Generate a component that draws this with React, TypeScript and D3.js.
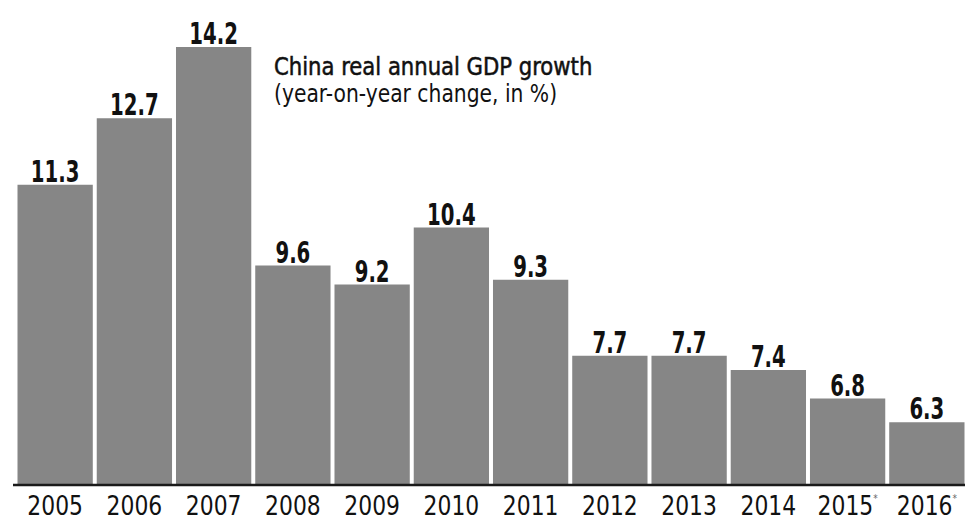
import React from 'react';
import * as d3 from 'd3';

const years = ['2005', '2006', '2007', '2008', '2009', '2010', '2011', '2012', '2013', '2014', '2015', '2016'];
const growth = [11.3, 12.7, 14.2, 9.6, 9.2, 10.4, 9.3, 7.7, 7.7, 7.4, 6.8, 6.3];
const starred = ['2015', '2016'];

const W = 965;
const H = 521;
const FONT = "'DejaVu Sans Condensed', 'DejaVu Sans', sans-serif";

export default function App() {
  const x = d3.scaleBand<string>().domain(years).range([17.5, 964.5]).paddingInner(0.05).paddingOuter(0);
  const y = d3.scaleLinear().domain([5, 14.2]).range([484, 47]);
  const data = years.map((yr, i) => ({ yr, v: growth[i] }));
  const cx = (yr: string) => (x(yr) || 0) + x.bandwidth() / 2;

  return (
    <svg width={W} height={H} style={{ position: 'absolute', left: 0, top: 0, background: '#fff' }}>
      {/* bars */}
      {data.map((d) => (
        <rect key={d.yr} x={x(d.yr)} y={y(d.v)} width={x.bandwidth()} height={y(5) - y(d.v)} fill="#868686" />
      ))}
      {/* value labels, squeezed to match the condensed type */}
      {data.map((d) => (
        <text
          key={'v' + d.yr}
          transform={`translate(${cx(d.yr)},${y(d.v) - 3}) scale(0.73,1)`}
          textAnchor="middle"
          fontFamily={FONT}
          fontWeight="bold"
          fontSize={30}
          fill="#111"
        >
          {d.v.toFixed(1)}
        </text>
      ))}
      {/* baseline */}
      <line x1={13} x2={965} y1={485} y2={485} stroke="#1a1a1a" strokeWidth={2.5} />
      {/* year labels */}
      {data.map((d) => (
        <text
          key={'t' + d.yr}
          transform={`translate(${cx(d.yr)},515) scale(0.9,1)`}
          textAnchor="middle"
          fontFamily={FONT}
          fontSize={27}
          fill="#111"
        >
          {d.yr}
          {starred.includes(d.yr) && (
            <tspan fontSize={11} dy={-13} fill="#666">*</tspan>
          )}
        </text>
      ))}
      {/* title */}
      <text transform="translate(274,75) scale(0.98,1)" fontFamily={FONT} fontSize={24} fill="#111" stroke="#111" strokeWidth={0.5}>
        China real annual GDP growth
      </text>
      <text transform="translate(274,102) scale(0.94,1)" fontFamily={FONT} fontSize={24} fill="#111">
        (year-on-year change, in %)
      </text>
    </svg>
  );
}
